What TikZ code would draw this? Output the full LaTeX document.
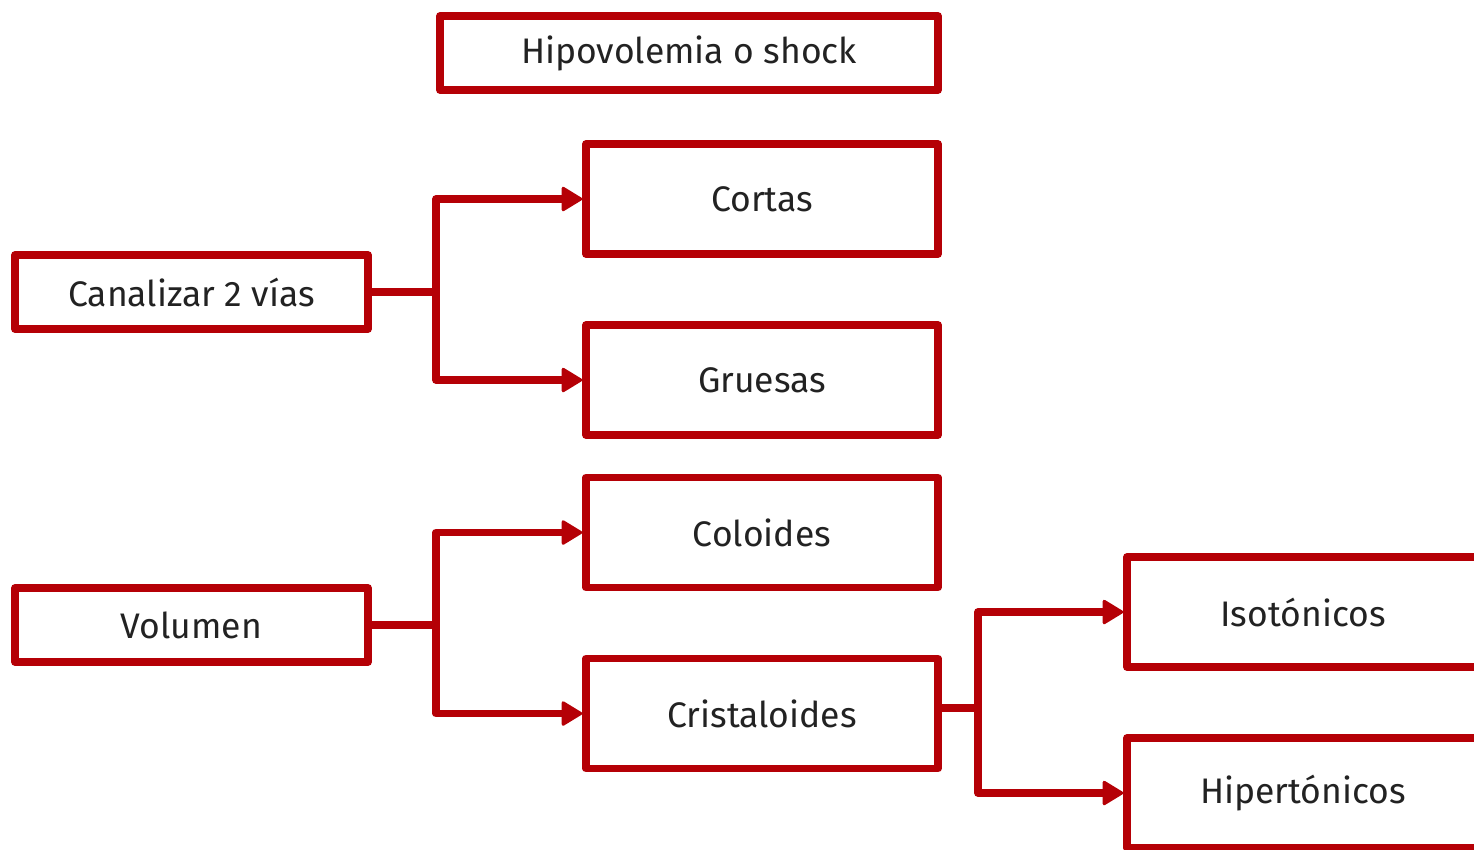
\documentclass[tikz,border=0pt]{standalone}
\usepackage{fontspec}
\setmainfont{Fira Sans}
\usetikzlibrary{arrows.meta}
\definecolor{boxred}{HTML}{B50006}
\definecolor{txt}{HTML}{222222}
\begin{document}
\begin{tikzpicture}[x=1pt,y=-1pt,
  box/.style={draw=boxred,line width=7.5pt,line join=round,text=txt,font=\fontsize{35.5}{38}\selectfont,minimum width=352pt,minimum height=110pt,inner sep=0pt},
  smallbox/.style={box,minimum height=74pt},
  conn/.style={draw=boxred,line width=7.5pt,line join=round},
  arr/.style={conn,-{Triangle[length=22pt,width=26pt,line join=round,line width=3pt]}}]
\useasboundingbox (0,0) rectangle (1474,849);
\clip (0,0) rectangle (1474,849);
\node[smallbox,minimum width=498pt] (hipo) at (689,53) {Hipovolemia o shock};
\node[box] (cortas) at (762,199) {Cortas};
\node[box] (gruesas) at (762,380) {Gruesas};
\node[box] (coloides) at (762,532.5) {Coloides};
\node[box] (crist) at (762,713.5) {Cristaloides};
\node[smallbox,minimum width=353pt] (canal) at (191.5,292) {Canalizar 2 vías};
\node[smallbox,minimum width=353pt] (vol) at (191.5,625) {Volumen};
\node[box] (iso) at (1303,612) {Isotónicos};
\node[box] (hiper) at (1303,793) {Hipertónicos};
\coordinate (j1) at (436,292);
\coordinate (j2) at (436,625);
\coordinate (j3) at (978,708);
\draw[conn] (canal.east |- j1) -- (j1);
\draw[arr] (j1) |- (cortas.west);
\draw[arr] (j1) |- (gruesas.west);
\draw[conn] (vol.east |- j2) -- (j2);
\draw[arr] (j2) |- (coloides.west);
\draw[arr] (j2) |- (crist.west);
\draw[conn] (crist.east |- j3) -- (j3);
\draw[arr] (j3) |- (iso.west);
\draw[arr] (j3) |- (hiper.west);
\end{tikzpicture}
\end{document}
